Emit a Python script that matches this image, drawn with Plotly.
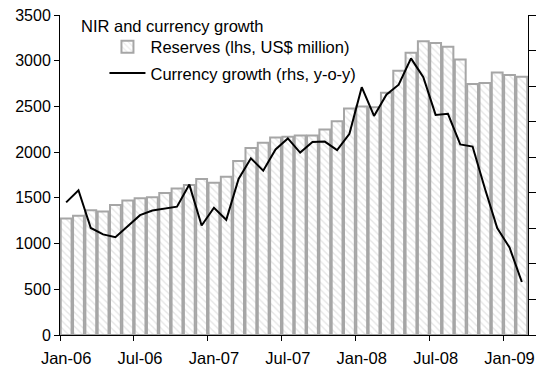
import plotly.graph_objects as go

# Monthly observations, Jan-06 .. Feb-09
months = [
    "Jan-06", "Feb-06", "Mar-06", "Apr-06", "May-06", "Jun-06",
    "Jul-06", "Aug-06", "Sep-06", "Oct-06", "Nov-06", "Dec-06",
    "Jan-07", "Feb-07", "Mar-07", "Apr-07", "May-07", "Jun-07",
    "Jul-07", "Aug-07", "Sep-07", "Oct-07", "Nov-07", "Dec-07",
    "Jan-08", "Feb-08", "Mar-08", "Apr-08", "May-08", "Jun-08",
    "Jul-08", "Aug-08", "Sep-08", "Oct-08", "Nov-08", "Dec-08",
    "Jan-09", "Feb-09",
]

# Net international reserves, US$ million (left axis)
reserves = [
    1274, 1303, 1364, 1350, 1421, 1472, 1497, 1508, 1554, 1601, 1640, 1705,
    1666, 1730, 1903, 2046, 2104, 2161, 2168, 2183, 2183, 2247, 2337, 2477,
    2500, 2491, 2649, 2890, 3087, 3213, 3195, 3152, 3012, 2746, 2757, 2872,
    2843, 2825,
]

# Currency growth, y-o-y (right axis)
currency_growth = [
    37.3, 40.7, 30.1, 28.3, 27.5, 30.6, 33.7, 35.0, 35.6, 36.1, 42.3, 30.8,
    35.8, 32.4, 43.9, 49.7, 46.2, 52.2, 55.3, 51.3, 54.3, 54.4, 52.0, 56.6,
    69.7, 61.6, 67.6, 70.4, 77.8, 72.5, 61.9, 62.2, 53.6, 53.0, 41.2, 30.1,
    24.6, 14.9,
]

label_every = 6
idx = list(range(len(months)))
label_pos = idx[::label_every]
label_txt = months[::label_every]
tick_pos = [p - 0.5 for p in label_pos]

FONT = "Liberation Sans, Arial, sans-serif"

fig = go.Figure()

fig.add_trace(go.Bar(
    x=idx, y=reserves,
    name="Reserves (lhs, US$ million)",
    width=0.88,
    marker=dict(
        color="white",
        line=dict(color="#a6a6a6", width=2),
        pattern=dict(shape="\\", fgcolor="#cccccc", bgcolor="white",
                     size=5, solidity=0.28),
    ),
    legendgroup="a",
    yaxis="y",
))

fig.add_trace(go.Scatter(
    x=idx, y=currency_growth,
    name="Currency growth (rhs, y-o-y)",
    mode="lines",
    line=dict(color="black", width=2),
    legendgroup="b",
    yaxis="y2",
))

# Invisible trace carrying the boundary tick marks between categories
fig.add_trace(go.Scatter(x=[-0.5], y=[0], xaxis="x2", yaxis="y",
                         mode="markers", marker=dict(opacity=0),
                         showlegend=False, hoverinfo="skip"))

fig.update_layout(
    width=542, height=374,
    margin=dict(l=60, r=7, t=14, b=35),
    paper_bgcolor="white", plot_bgcolor="white",
    font=dict(family=FONT, size=16, color="black"),
    showlegend=True,
    legend=dict(
        x=0.095, y=0.955, xanchor="left", yanchor="top",
        bgcolor="rgba(0,0,0,0)", borderwidth=0,
        font=dict(family=FONT, size=16.5, color="black"),
        tracegroupgap=2, itemwidth=36,
    ),
    xaxis=dict(
        range=[-0.5, len(months) - 0.5],
        tickmode="array", tickvals=label_pos, ticktext=label_txt,
        ticks="", showgrid=False, zeroline=False,
        showline=True, linecolor="black", linewidth=1,
        tickfont=dict(size=16.5), ticklabelstandoff=8,
    ),
    xaxis2=dict(
        overlaying="x", range=[-0.5, len(months) - 0.5],
        tickmode="array", tickvals=tick_pos,
        ticks="outside", ticklen=5, tickcolor="black",
        showticklabels=False, showgrid=False, zeroline=False,
        showline=False,
    ),
    yaxis=dict(
        range=[0, 3500], dtick=500,
        ticks="outside", ticklen=5, tickcolor="black",
        showgrid=False, zeroline=False,
        showline=True, linecolor="black", linewidth=1,
        tickfont=dict(size=16),
    ),
    yaxis2=dict(
        overlaying="y", side="right",
        range=[0, 90], dtick=10,
        ticks="outside", ticklen=7, tickcolor="black",
        showticklabels=False, showgrid=False, zeroline=False,
        showline=True, linecolor="black", linewidth=1,
    ),
    annotations=[dict(
        text="NIR and currency growth", xref="paper", yref="paper",
        x=0.04, y=1.0, xanchor="left", yanchor="top", showarrow=False,
        font=dict(family=FONT, size=16.5, color="black"),
    )],
)

fig.write_html("out.html")
